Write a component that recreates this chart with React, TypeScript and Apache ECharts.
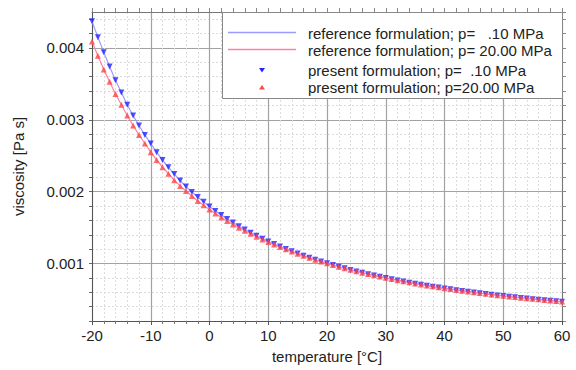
import React, { useEffect, useRef } from "react";
import * as echarts from "echarts";

// temperature [°C]
const temps = [
  -20, -19, -18, -17, -16, -15, -14, -13, -12, -11, -10, -9, -8, -7, -6, -5, -4, -3, -2, -1,
  0, 1, 2, 3, 4, 5, 6, 7, 8, 9, 10, 11, 12, 13, 14, 15, 16, 17, 18, 19,
  20, 21, 22, 23, 24, 25, 26, 27, 28, 29, 30, 31, 32, 33, 34, 35, 36, 37, 38, 39,
  40, 41, 42, 43, 44, 45, 46, 47, 48, 49, 50, 51, 52, 53, 54, 55, 56, 57, 58, 59, 60,
];

// viscosity in mPa s at p = 0.10 MPa
const visc010 = [
  4.37, 4.15, 3.94, 3.74, 3.55, 3.38, 3.21, 3.06, 2.92, 2.79, 2.67, 2.55, 2.44, 2.34, 2.245, 2.155, 2.07, 1.995, 1.925, 1.858,
  1.792, 1.731, 1.674, 1.62, 1.569, 1.519, 1.473, 1.428, 1.386, 1.346, 1.307, 1.271, 1.235, 1.202, 1.169, 1.138, 1.109, 1.081, 1.053, 1.027,
  1.002, 0.978, 0.955, 0.933, 0.911, 0.89, 0.871, 0.851, 0.833, 0.815, 0.798, 0.781, 0.765, 0.749, 0.734, 0.719, 0.705, 0.692, 0.678, 0.665,
  0.653, 0.641, 0.629, 0.618, 0.607, 0.596, 0.586, 0.576, 0.566, 0.556, 0.547, 0.538, 0.529, 0.521, 0.513, 0.504, 0.497, 0.489, 0.482, 0.474, 0.467,
];

// viscosity in mPa s at p = 20.00 MPa
const visc2000 = [
  4.09, 3.89, 3.7, 3.53, 3.36, 3.21, 3.06, 2.92, 2.79, 2.67, 2.55, 2.44, 2.34, 2.25, 2.16, 2.08, 2.01, 1.94, 1.87, 1.81,
  1.75, 1.695, 1.642, 1.592, 1.544, 1.498, 1.455, 1.413, 1.373, 1.335, 1.298, 1.263, 1.229, 1.197, 1.166, 1.136, 1.107, 1.079, 1.052, 1.027,
  1.002, 0.979, 0.956, 0.934, 0.913, 0.893, 0.873, 0.854, 0.836, 0.818, 0.801, 0.784, 0.768, 0.753, 0.738, 0.723, 0.709, 0.695, 0.682, 0.669,
  0.657, 0.645, 0.633, 0.622, 0.611, 0.6, 0.59, 0.58, 0.57, 0.56, 0.551, 0.542, 0.533, 0.525, 0.517, 0.508, 0.501, 0.493, 0.486, 0.478, 0.471,
];

const legendLabels = [
  "reference formulation; p=   .10 MPa",
  "reference formulation; p= 20.00 MPa",
  "present formulation; p=  .10 MPa",
  "present formulation; p=20.00 MPa",
];

const FONT = "'Liberation Sans', Arial, sans-serif";
const MAJOR = "#a2a2a2";
const MINOR = "#dcdcdc";
const NONE = "rgba(0,0,0,0)";
const BLUE_LINE = "#9a9aff";
const PINK_LINE = "#ff7fa6";

export default function App() {
  const ref = useRef<HTMLDivElement>(null);

  useEffect(() => {
    if (!ref.current) return;
    const chart = echarts.init(ref.current, null, { renderer: "svg" });
    const toPa = (v: number) => v / 1000;
    const d010 = temps.map((t, i) => [t, toPa(visc010[i])]);
    const d2000 = temps.map((t, i) => [t, toPa(visc2000[i])]);

    const textStyle = { fontFamily: FONT, fontSize: 15, fill: "#222" };
    const rowY = [33, 50, 70, 87];

    chart.setOption({
      animation: false,
      backgroundColor: "#fff",
      textStyle: { fontFamily: FONT },
      grid: { left: 92, right: 14, top: 12, bottom: 49, outerBoundsMode: "none" },
      xAxis: [
        {
          type: "value",
          position: "bottom",
          min: -20,
          max: 60,
          interval: 10,
          name: "temperature [°C]",
          nameLocation: "middle",
          nameGap: 28,
          nameTextStyle: { fontFamily: FONT, fontSize: 15, color: "#222" },
          axisLine: { show: true, onZero: false, lineStyle: { color: "#555", width: 1 } },
          axisTick: { show: true, inside: false, length: 4, lineStyle: { color: "#555" } },
          minorTick: { show: true, splitNumber: 5, length: 3, lineStyle: { color: "#777" } },
          axisLabel: { fontFamily: FONT, fontSize: 15, color: "#222", margin: 7 },
          splitLine: { show: true, lineStyle: { color: MAJOR, width: 1.2 } },
          minorSplitLine: { show: true, lineStyle: { color: MINOR, width: 1, type: [2, 2] } },
        },
        {
          type: "value",
          position: "top",
          min: -20,
          max: 60,
          interval: 2,
          axisLine: { show: true, onZero: false, lineStyle: { color: "#777", width: 1 } },
          axisTick: { show: true, inside: false, length: 4, lineStyle: { color: "#888" } },
          axisLabel: { show: false },
          splitLine: { show: false },
        },
      ],
      yAxis: [
        {
          type: "value",
          position: "left",
          min: 0.0002,
          max: 0.0045,
          interval: 0.0002,
          name: "viscosity [Pa s]",
          nameLocation: "middle",
          nameGap: 66,
          nameRotate: 90,
          nameTextStyle: { fontFamily: FONT, fontSize: 15, color: "#222" },
          axisLine: { show: true, onZero: false, lineStyle: { color: "#555", width: 1 } },
          axisTick: { show: true, inside: false, length: 3, lineStyle: { color: "#666" } },
          axisLabel: {
            fontFamily: FONT,
            fontSize: 15,
            color: "#222",
            margin: 8,
            showMaxLabel: false,
            formatter: (v: number) => {
              const k = v * 1000;
              return Math.abs(k - Math.round(k)) < 1e-6 && Math.round(k) > 0 ? v.toFixed(3) : "";
            },
          },
          splitLine: {
            show: true,
            lineStyle: { color: [MINOR, MINOR, MINOR, MINOR, NONE], width: 1, type: [2, 2] },
          },
        },
        {
          type: "value",
          position: "right",
          min: 0.0002,
          max: 0.0045,
          interval: 0.0002,
          axisLine: { show: true, onZero: false, lineStyle: { color: "#777", width: 1 } },
          axisTick: { show: true, inside: false, length: 4, lineStyle: { color: "#888" } },
          axisLabel: { show: false },
          splitLine: {
            show: true,
            lineStyle: { color: [NONE, NONE, NONE, NONE, MAJOR], width: 1.2, type: "solid" },
          },
        },
      ],
      series: [
        {
          type: "line",
          name: legendLabels[0],
          data: d010,
          showSymbol: false,
          lineStyle: { color: BLUE_LINE, width: 1.2 },
          itemStyle: { color: BLUE_LINE },
          z: 3,
        },
        {
          type: "line",
          name: legendLabels[1],
          data: d2000,
          showSymbol: false,
          lineStyle: { color: PINK_LINE, width: 1.2 },
          itemStyle: { color: PINK_LINE },
          z: 3,
        },
        {
          type: "scatter",
          name: legendLabels[2],
          data: d010,
          symbol: "triangle",
          symbolRotate: 180,
          symbolSize: 6,
          itemStyle: { color: "#2424ff" },
          z: 4,
        },
        {
          type: "scatter",
          name: legendLabels[3],
          data: d2000,
          symbol: "triangle",
          symbolSize: 6,
          itemStyle: { color: "#ff4646" },
          z: 5,
        },
      ],
      graphic: [
        {
          type: "rect",
          z: 100,
          shape: { x: 222.5, y: 12.5, width: 340, height: 86 },
          style: { fill: "#fff", stroke: "#888", lineWidth: 1 },
        },
        {
          type: "line",
          z: 101,
          shape: { x1: 228, y1: 32.5, x2: 296, y2: 32.5 },
          style: { stroke: BLUE_LINE, lineWidth: 1.5 },
        },
        {
          type: "line",
          z: 101,
          shape: { x1: 228, y1: 49.5, x2: 296, y2: 49.5 },
          style: { stroke: PINK_LINE, lineWidth: 1.5 },
        },
        {
          type: "polygon",
          z: 101,
          shape: { points: [[259, 68], [265, 68], [262, 72.5]] },
          style: { fill: "#2424ff" },
        },
        {
          type: "polygon",
          z: 101,
          shape: { points: [[259, 89.5], [265, 89.5], [262, 85]] },
          style: { fill: "#ff4646" },
        },
        ...legendLabels.map((t, i) => ({
          type: "text",
          z: 101,
          x: 308,
          y: rowY[i],
          style: { ...textStyle, text: t, verticalAlign: "middle", align: "left" },
        })),
      ],
    });
    return () => chart.dispose();
  }, []);

  return (
    <div
      ref={ref}
      style={{ position: "fixed", left: 0, top: 0, width: 576, height: 370, background: "#fff" }}
    />
  );
}
